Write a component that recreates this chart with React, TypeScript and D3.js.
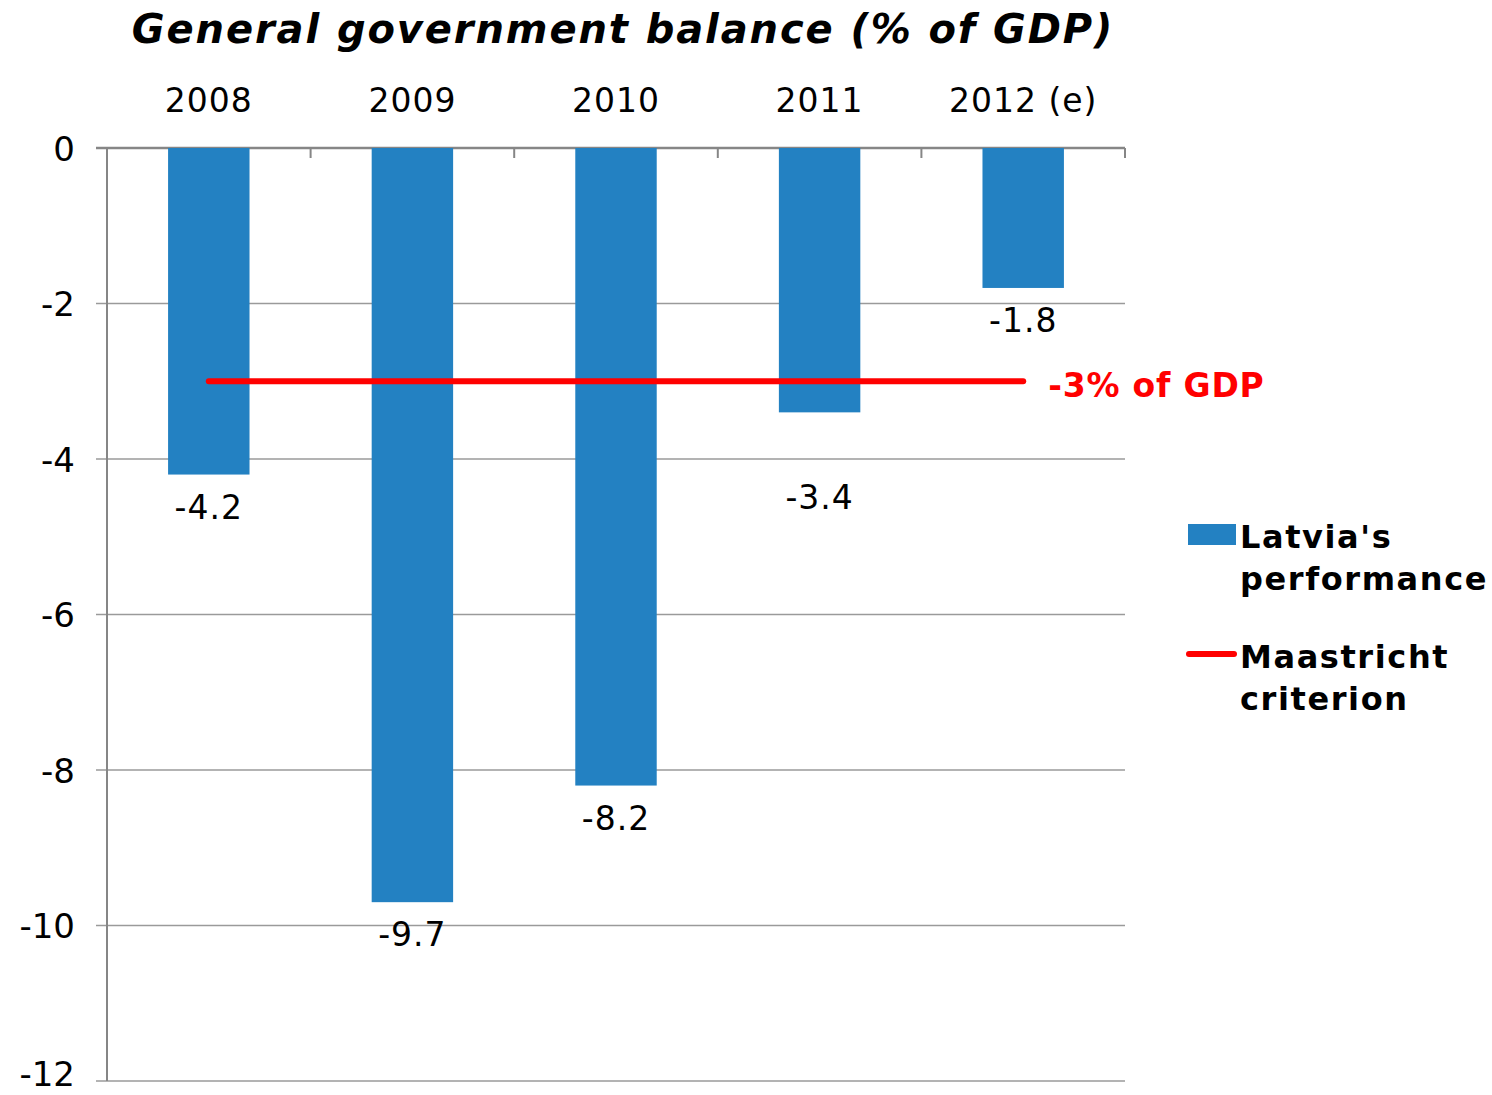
import React from "react";
import * as d3 from "d3";

const categories = ["2008", "2009", "2010", "2011", "2012 (e)"];
const balance = [-4.2, -9.7, -8.2, -3.4, -1.8];
const criterion = [-3, -3, -3, -3, -3];
const yTicks = [0, -2, -4, -6, -8, -10, -12];

const W = 1492, H = 1095;
const left = 107, right = 1125, top = 148, bottom = 1081;
const FONT = "'DejaVu Sans', Verdana, sans-serif";
// extra downward shift of a data label (label placed manually in the original)
const labelShift: Record<string, number> = { "2011": 53 };

export default function App() {
  const x = d3.scaleBand<string>().domain(categories).range([left, right]).paddingInner(0).paddingOuter(0);
  const y = d3.scaleLinear().domain([0, -12]).range([top, bottom]);
  const bw = x.bandwidth() * 0.4;
  const line = d3.line<number>()
    .x((_, i) => (x(categories[i]) as number) + x.bandwidth() / 2)
    .y((d) => y(d));
  const boundaries = categories.map((c) => x(c) as number).concat([right]);
  const lastX = (x(categories[categories.length - 1]) as number) + x.bandwidth() / 2;

  return (
    <svg width={W} height={H} style={{ position: "absolute", left: 0, top: 0, background: "#fff" }} fontFamily={FONT}>
      <rect width={W} height={H} fill="#fff" />
      <text x={623} y={43} textAnchor="middle" fontSize={40} letterSpacing={1.9} fontWeight="bold" fontStyle="italic" fill="#000">
        General government balance (% of GDP)
      </text>
      {yTicks.map((t) => (
        <g key={t}>
          <line x1={96} x2={right} y1={y(t)} y2={y(t)} stroke={t === 0 ? "#868686" : "#9a9a9a"} strokeWidth={t === 0 ? 2.5 : 1.5} />
          <text x={75} y={Math.min(y(t) + 12.5, H - 9)} textAnchor="end" fontSize={34} fill="#000">{t === 0 ? "0" : `-${Math.abs(t)}`}</text>
        </g>
      ))}
      <line x1={left} x2={left} y1={top} y2={bottom} stroke="#868686" strokeWidth={2} />
      {boundaries.map((b, i) => (
        <line key={i} x1={b} x2={b} y1={top} y2={top + 10} stroke="#868686" strokeWidth={2} />
      ))}
      {categories.map((c, i) => {
        const cx = (x(c) as number) + x.bandwidth() / 2;
        return (
          <g key={c}>
            <text x={cx} y={112} textAnchor="middle" fontSize={33} letterSpacing={1} fill="#000">{c}</text>
            <rect x={cx - bw / 2} y={y(0)} width={bw} height={y(balance[i]) - y(0)} fill="#2381C2" />
            <text x={cx} y={y(balance[i]) + 44 + (labelShift[c] || 0)} textAnchor="middle" fontSize={33} letterSpacing={1} fill="#000">{balance[i].toFixed(1)}</text>
          </g>
        );
      })}
      <path d={line(criterion) || ""} fill="none" stroke="#FF0000" strokeWidth={6} strokeLinecap="round" />
      <text x={lastX + 25} y={397} fontSize={33} letterSpacing={0.8} fontWeight="bold" fill="#FF0000">-3% of GDP</text>
      <rect x={1188} y={524} width={48} height={21} fill="#2381C2" />
      <text x={1240} y={548} fontSize={32} letterSpacing={1.6} fontWeight="bold" fill="#000">Latvia's</text>
      <text x={1240} y={590} fontSize={32} letterSpacing={1.6} fontWeight="bold" fill="#000">performance</text>
      <line x1={1189} x2={1234} y1={654} y2={654} stroke="#FF0000" strokeWidth={6} strokeLinecap="round" />
      <text x={1240} y={668} fontSize={32} letterSpacing={1.6} fontWeight="bold" fill="#000">Maastricht</text>
      <text x={1240} y={710} fontSize={32} letterSpacing={1.6} fontWeight="bold" fill="#000">criterion</text>
    </svg>
  );
}
